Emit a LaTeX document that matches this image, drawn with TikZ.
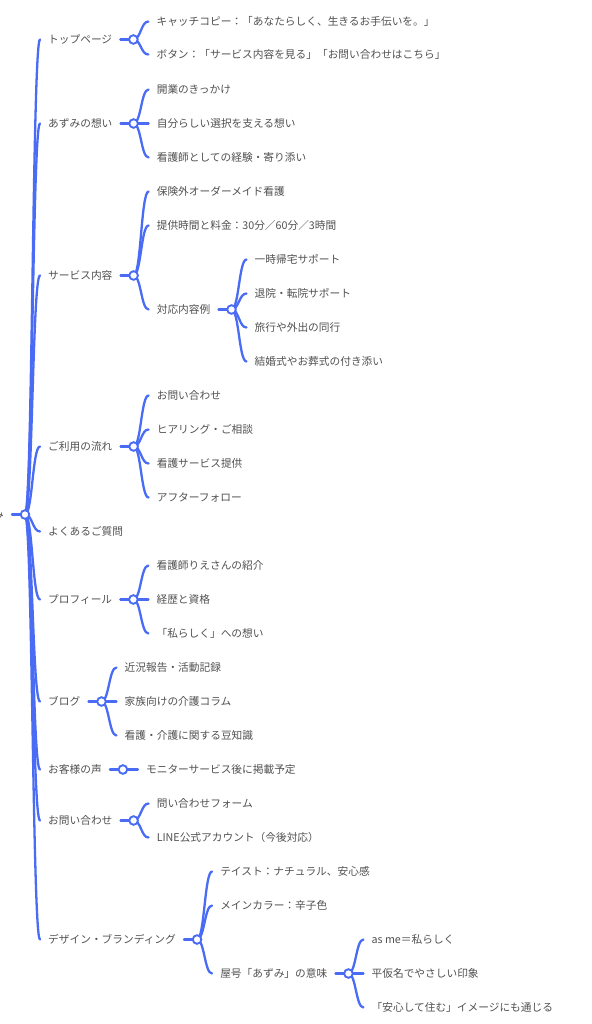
\documentclass[tikz,border=0pt]{standalone}
\usepackage{fontspec}
\setmainfont{Noto Sans CJK JP}
\usetikzlibrary{calc,backgrounds}
\definecolor{linkc}{HTML}{4A6CF4}
\definecolor{txtc}{HTML}{505050}
\tikzset{
  link/.style={draw=linkc, line width=2.3pt, line cap=round},
  lbl/.style={anchor=west, inner xsep=8pt, inner ysep=0pt, text=txtc,
    font=\fontsize{10.7}{12}\selectfont, text height=.88em, text depth=.12em},
  junc/.style={circle, draw=linkc, fill=white, line width=1.9pt, minimum size=8.6pt, inner sep=0pt},
}
\newcommand\Lone[3]{\node[lbl] (#1) at (40,#2) {#3};}
\newcommand\Jn[1]{\node[junc] (#1c) at ($(#1.east)+(13,0)$) {};}
\newcommand\Kid[4]{\path (#2c.center) ++(15,0) coordinate (tmp#1);
  \node[lbl] (#1) at (tmp#1|-0,#3) {#4};}
\newcommand\Lnk[2]{\draw[link] (#1.center) .. controls ($(#1.center)!0.5!(#2.west|-#1.center)$) and ($(#2.west)!0.5!(#1.center|-#2.west)$) .. (#2.west);}
\newcommand\Stub[1]{\draw[link] (#1.east) -- (#1c.center);}
\begin{document}
\begin{tikzpicture}[x=1pt,y=-1pt]
\useasboundingbox (0,0) rectangle (591,1024);
\begin{scope}[shift={(0,1.5)}]
% root
\node[lbl,anchor=east] (R) at (12,513) {み};
\node[junc] (Rc) at (25,513) {};
% level 1
\Lone{A}{38}{トップページ}\Jn{A}
\Lone{B}{122}{あずみの想い}\Jn{B}
\Lone{C}{274}{サービス内容}\Jn{C}
\Lone{D}{445}{ご利用の流れ}\Jn{D}
\Lone{E}{530}{よくあるご質問}
\Lone{F}{598}{プロフィール}\Jn{F}
\Lone{G}{700}{ブログ}\Jn{G}
\Lone{H}{768}{お客様の声}\Jn{H}
\Lone{I}{819}{お問い合わせ}\Jn{I}
\Lone{J}{938}{デザイン・ブランディング}\Jn{J}
% level 2
\Kid{A1}{A}{20}{キャッチコピー：「あなたらしく、生きるお手伝いを。」}
\Kid{A2}{A}{53}{ボタン：「サービス内容を見る」「お問い合わせはこちら」}
\Kid{B1}{B}{88}{開業のきっかけ}
\Kid{B2}{B}{122}{自分らしい選択を支える想い}
\Kid{B3}{B}{156}{看護師としての経験・寄り添い}
\Kid{C1}{C}{190}{保険外オーダーメイド看護}
\Kid{C2}{C}{224}{提供時間と料金：30分／60分／3時間}
\Kid{C3}{C}{308}{対応内容例}\Jn{C3}
\Kid{C31}{C3}{258}{一時帰宅サポート}
\Kid{C32}{C3}{292}{退院・転院サポート}
\Kid{C33}{C3}{326}{旅行や外出の同行}
\Kid{C34}{C3}{360}{結婚式やお葬式の付き添い}
\Kid{D1}{D}{394}{お問い合わせ}
\Kid{D2}{D}{428}{ヒアリング・ご相談}
\Kid{D3}{D}{462}{看護サービス提供}
\Kid{D4}{D}{496}{アフターフォロー}
\Kid{F1}{F}{564}{看護師りえさんの紹介}
\Kid{F2}{F}{598}{経歴と資格}
\Kid{F3}{F}{632}{「私らしく」への想い}
\Kid{G1}{G}{666}{近況報告・活動記録}
\Kid{G2}{G}{700}{家族向けの介護コラム}
\Kid{G3}{G}{734}{看護・介護に関する豆知識}
\Kid{H1}{H}{768}{モニターサービス後に掲載予定}
\Kid{I1}{I}{802}{問い合わせフォーム}
\Kid{I2}{I}{836}{LINE公式アカウント（今後対応）}
\Kid{J1}{J}{870}{テイスト：ナチュラル、安心感}
\Kid{J2}{J}{904}{メインカラー：辛子色}
\Kid{J3}{J}{972}{屋号「あずみ」の意味}\Jn{J3}
\Kid{J31}{J3}{938}{as me＝私らしく}
\Kid{J32}{J3}{972}{平仮名でやさしい印象}
\Kid{J33}{J3}{1006}{「安心して住む」イメージにも通じる}
\begin{pgfonlayer}{background}
\draw[link] (R.east) -- (Rc.center);
\foreach \n in {A,B,C,D,E,F,G,H,I,J}{\Lnk{Rc}{\n}}
\foreach \n in {A,B,C,D,F,G,H,I,J,C3,J3}{\Stub{\n}}
\foreach \n in {A1,A2}{\Lnk{Ac}{\n}}
\foreach \n in {B1,B2,B3}{\Lnk{Bc}{\n}}
\foreach \n in {C1,C2,C3}{\Lnk{Cc}{\n}}
\foreach \n in {C31,C32,C33,C34}{\Lnk{C3c}{\n}}
\foreach \n in {D1,D2,D3,D4}{\Lnk{Dc}{\n}}
\foreach \n in {F1,F2,F3}{\Lnk{Fc}{\n}}
\foreach \n in {G1,G2,G3}{\Lnk{Gc}{\n}}
\Lnk{Hc}{H1}
\foreach \n in {I1,I2}{\Lnk{Ic}{\n}}
\foreach \n in {J1,J2,J3}{\Lnk{Jc}{\n}}
\foreach \n in {J31,J32,J33}{\Lnk{J3c}{\n}}
\end{pgfonlayer}
\end{scope}
\end{tikzpicture}
\end{document}
